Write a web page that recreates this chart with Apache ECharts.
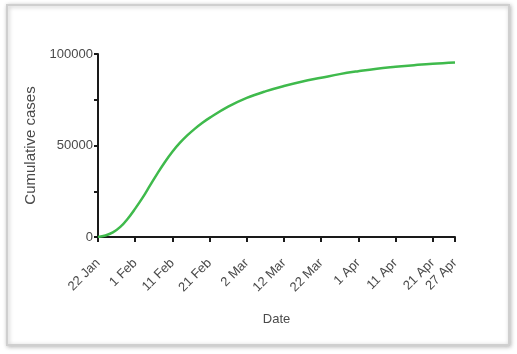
<!DOCTYPE html>
<html>
<head>
<meta charset="utf-8">
<script src="https://cdn.jsdelivr.net/npm/echarts@6/dist/echarts.min.js"></script>
<style>
  html, body { margin: 0; padding: 0; background: #fff; }
  #chart { width: 517px; height: 354px; }
</style>
</head>
<body>
<div id="chart"></div>
<script>
// days since 22 Jan and cumulative cases
const days = [0, 2, 4, 6, 8, 10, 12, 14, 16, 18, 20, 22, 24, 26, 28, 30, 35, 40, 45, 50, 55, 60, 65, 70, 75, 80, 85, 90, 96];
const cases = [0, 800, 2500, 5500, 10000, 15500, 21500, 28200, 34800, 41000, 46600, 51400, 55500, 59100, 62300, 65100, 71200, 76000, 79600, 82500, 85000, 87000, 89000, 90600, 92000, 93000, 93900, 94700, 95400];

// x tick positions and their labels
const tickDays = [0, 10, 20, 30, 40, 50, 60, 70, 80, 90, 96];
const tickLabels = ['22 Jan', '1 Feb', '11 Feb', '21 Feb', '2 Mar', '12 Mar', '22 Mar', '1 Apr', '11 Apr', '21 Apr', '27 Apr'];

const font = '"Liberation Sans", Arial, sans-serif';
const textColor = '#4a4a4a';

const chart = echarts.init(document.getElementById('chart'));

const option = {
  animation: false,
  backgroundColor: '#fff',
  graphic: [
    {
      type: 'rect',
      shape: { x: 7, y: 5, width: 502, height: 340 },
      style: {
        fill: '#fff',
        stroke: '#cfcfcf',
        lineWidth: 2,
        shadowBlur: 4,
        shadowColor: 'rgba(0,0,0,0.25)',
        shadowOffsetX: 1,
        shadowOffsetY: 1
      },
      z: -10
    }
  ],
  grid: { left: 98, right: 62, top: 54, bottom: 117 },
  xAxis: {
    type: 'value',
    min: 0,
    max: 96,
    name: 'Date',
    nameLocation: 'middle',
    nameGap: 76,
    nameTextStyle: { fontFamily: font, fontSize: 13, color: textColor },
    axisLine: { show: true, onZero: false, lineStyle: { color: '#1a1a1a', width: 2 } },
    axisTick: {
      show: true,
      length: 5,
      customValues: tickDays,
      lineStyle: { color: '#1a1a1a', width: 2 }
    },
    axisLabel: {
      rotate: 45,
      margin: 24,
      fontFamily: font,
      fontSize: 13,
      color: textColor,
      customValues: tickDays,
      formatter: function (v) {
        const i = tickDays.indexOf(v);
        return i >= 0 ? tickLabels[i] : '';
      }
    },
    splitLine: { show: false }
  },
  yAxis: {
    type: 'value',
    min: 0,
    max: 100000,
    interval: 25000,
    name: 'Cumulative cases',
    nameLocation: 'middle',
    nameGap: 50,
    nameTextStyle: { fontFamily: font, fontSize: 15, color: textColor },
    axisLine: { show: true, lineStyle: { color: '#1a1a1a', width: 2 } },
    axisTick: { show: true, length: 4, lineStyle: { color: '#1a1a1a', width: 2 } },
    axisLabel: {
      margin: 5,
      fontFamily: font,
      fontSize: 13,
      color: textColor,
      formatter: function (v) {
        return v % 50000 === 0 ? String(v) : '';
      }
    },
    splitLine: { show: false }
  },
  series: [
    {
      type: 'line',
      data: days.map((d, i) => [d, cases[i]]),
      smooth: 0.4,
      symbol: 'none',
      lineStyle: { color: '#3fba4c', width: 2.5 },
      z: 1
    }
  ]
};

chart.setOption(option);
</script>
</body>
</html>
